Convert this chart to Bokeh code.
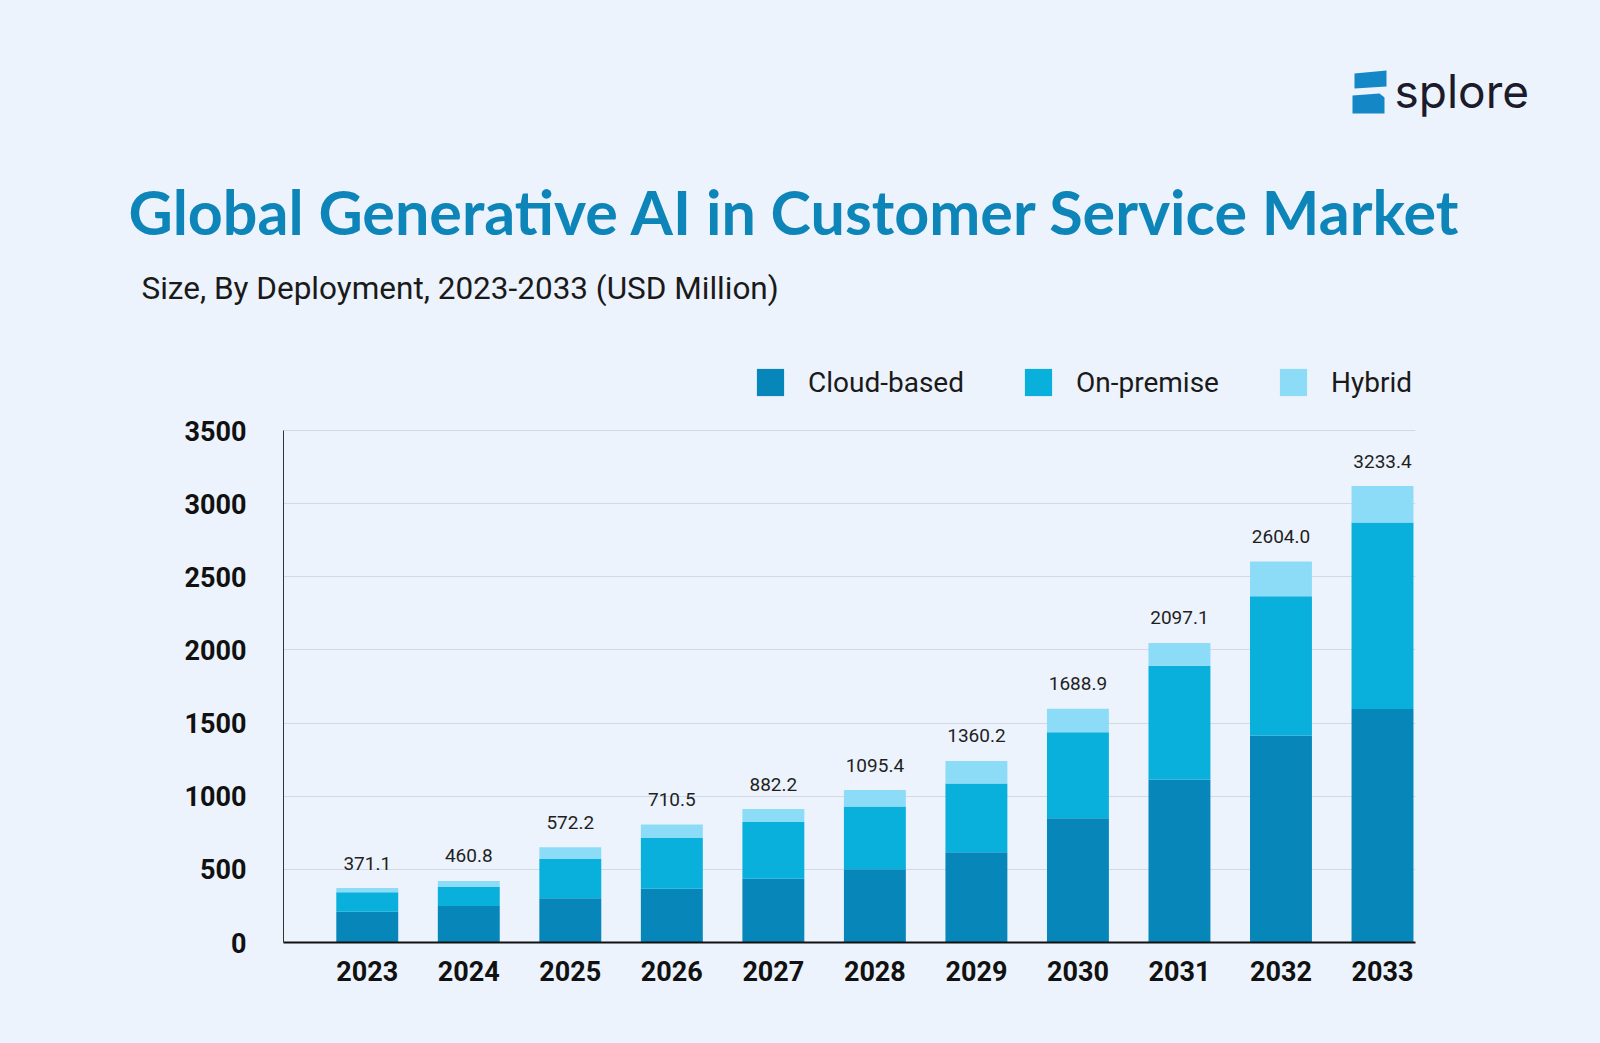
from bokeh.plotting import figure
from bokeh.layouts import column
from bokeh.models import ColumnDataSource, Range1d, FixedTicker, Label
from bokeh.core.properties import value
from bokeh.embed import file_html
from bokeh.resources import INLINE

# ---------------- data ----------------
years = [2023, 2024, 2025, 2026, 2027, 2028, 2029, 2030, 2031, 2032, 2033]
cloud_based = [210, 250, 303, 367, 436, 500, 617, 850, 1115, 1415, 1596]
on_premise = [134, 130, 268, 348, 388, 430, 470, 588, 776, 952, 1275]
hybrid = [28, 41, 80, 91, 88, 112, 154, 160, 157, 237, 249]
total_labels = ["371.1", "460.8", "572.2", "710.5", "882.2", "1095.4",
                "1360.2", "1688.9", "2097.1", "2604.0", "3233.4"]
series_names = ["Cloud-based", "On-premise", "Hybrid"]
y_ticks = [0, 500, 1000, 1500, 2000, 2500, 3000, 3500]

title_text = "Global Generative AI in Customer Service Market"
subtitle_text = "Size, By Deployment, 2023-2033 (USD Million)"
logo_text = "splore"

# ---------------- style ----------------
BG = "#ecf3fc"
COLORS = ["#0786ba", "#0ab0dc", "#8ddcf7"]
TITLE_COLOR = "#0e85b9"
LOGO_BLUE = "#1487c6"

W = 1600
HEAD_H = 330
MAIN_H = 1043 - HEAD_H

# ---------------- header (title, subtitle, logo) ----------------
head = figure(width=W, height=HEAD_H, output_backend="svg", toolbar_location=None,
              x_range=Range1d(0, W), y_range=Range1d(HEAD_H, 0),
              x_axis_type=None, y_axis_type=None,
              min_border=0, min_border_left=0, min_border_right=0,
              min_border_top=0, min_border_bottom=0)
head.frame_align = False
head.background_fill_color = BG
head.border_fill_color = BG
head.outline_line_color = None
head.grid.visible = False

head.add_layout(Label(x=128, y=211, text=title_text, text_font="Lato",
                      text_font_style="bold", text_font_size="61px",
                      text_color=TITLE_COLOR, text_baseline="middle"))
head.add_layout(Label(x=141, y=288, text=subtitle_text, text_font="Roboto",
                      text_font_size="31.5px", text_color="#1a1a1a",
                      text_baseline="middle"))
head.add_layout(Label(x=1394, y=90, text=logo_text, text_font="Inter",
                      text_font_size="46px", text_color="#1b1b2b",
                      text_baseline="middle"))
head.patches(xs=[[1354, 1386, 1386, 1354], [1352, 1379, 1384, 1384, 1352]],
             ys=[[73, 70, 86, 88], [95, 93, 97, 113, 113]],
             fill_color=LOGO_BLUE, line_color=None)

# ---------------- main chart ----------------
stack_top = [c + o + h for c, o, h in zip(cloud_based, on_premise, hybrid)]
source = ColumnDataSource(dict(year=years, cloud=cloud_based, onprem=on_premise,
                               hybrid=hybrid, top=stack_top, label=total_labels))

FRAME_TOP_PX = 0      # frame starts at top of this figure (legend sits inside it)
BORDER_BOTTOM = 101
frame_h = MAIN_H - FRAME_TOP_PX - BORDER_BOTTOM
y_top_px = 430 - HEAD_H   # pixel row of the 3500 gridline within this figure
y_end = y_ticks[-1] * frame_h / (frame_h - y_top_px)

p = figure(width=W, height=MAIN_H, output_backend="svg", toolbar_location=None,
           x_range=Range1d(2022.175, 2033.325), y_range=Range1d(0, y_end),
           min_border_left=283, min_border_right=185,
           min_border_top=FRAME_TOP_PX, min_border_bottom=BORDER_BOTTOM)
p.frame_align = False
p.background_fill_color = BG
p.border_fill_color = BG
p.outline_line_color = None

p.vbar_stack(["cloud", "onprem", "hybrid"], x="year", width=0.61,
             color=COLORS, line_color=None, source=source,
             legend_label=series_names)

p.text(x="year", y="top", text="label", source=source, text_align="center",
       text_baseline="middle", y_offset=-25, text_font_size="19px",
       text_color="#1f1f1f", text_font=value("Roboto"))

# axes
p.xaxis.ticker = FixedTicker(ticks=years)
p.yaxis.ticker = FixedTicker(ticks=y_ticks)
p.yaxis.bounds = (y_ticks[0], y_ticks[-1])
for ax in (p.xaxis[0], p.yaxis[0]):
    ax.major_tick_line_color = None
    ax.minor_tick_line_color = None
    ax.major_label_text_font = "Roboto"
    ax.major_label_text_font_style = "bold"
    ax.major_label_text_font_size = "27px"
    ax.major_label_text_color = "#111111"
p.xaxis.axis_line_color = "#111111"
p.xaxis.axis_line_width = 2
p.xaxis.major_label_standoff = 12
p.yaxis.axis_line_color = "#333333"
p.yaxis.axis_line_width = 1
p.yaxis.major_label_standoff = 31

p.xgrid.grid_line_color = None
p.ygrid.grid_line_color = "#d2d9e2"
p.ygrid.grid_line_width = 1

# legend (inside the upper, tick-free part of the frame)
lg = p.legend[0]
lg.orientation = "horizontal"
lg.location = (470, 543)
lg.background_fill_alpha = 0
lg.border_line_color = None
lg.padding = 0
lg.margin = 0
lg.glyph_width = 34
lg.glyph_height = 34
lg.label_height = 34
lg.label_standoff = 21
lg.spacing = 57
lg.label_text_font = "Roboto"
lg.label_text_font_size = "28px"
lg.label_text_color = "#1a1a1a"

layout = column(head, p, spacing=0)

html = file_html(layout, INLINE)
html = html.replace("</head>", "<style>body{background:%s;}</style></head>" % BG, 1)
open("out.html", "w").write(html)
